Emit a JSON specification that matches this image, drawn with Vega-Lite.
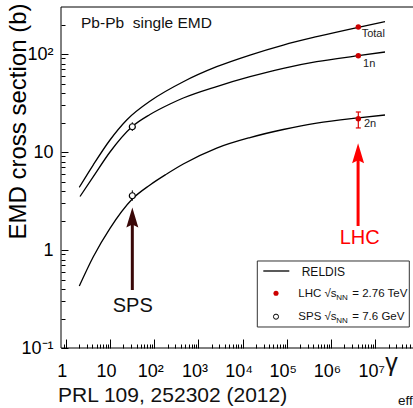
{
  "$schema": "https://vega.github.io/schema/vega-lite/v6.json",
  "width": 352,
  "height": 341,
  "autosize": "none",
  "padding": {"left": 61, "top": 7, "right": 0, "bottom": 60},
  "background": "white",
  "config": {"view": {"stroke": null}, "font": "Liberation Sans", "axis": {"ticks": true, "tickOpacity": 1, "zindex": 1}},
  "datasets": {
    "curves": [
      {"curve": "Total", "gamma": 2.02, "sigma": 4.363},
      {"curve": "Total", "gamma": 4.19, "sigma": 7.403},
      {"curve": "Total", "gamma": 10, "sigma": 13.26},
      {"curve": "Total", "gamma": 23.87, "sigma": 21.21},
      {"curve": "Total", "gamma": 87.79, "sigma": 33.93},
      {"curve": "Total", "gamma": 455.2, "sigma": 52.17},
      {"curve": "Total", "gamma": 2594, "sigma": 74.22},
      {"curve": "Total", "gamma": 14705, "sigma": 97.68},
      {"curve": "Total", "gamma": 83330, "sigma": 123.5},
      {"curve": "Total", "gamma": 474800, "sigma": 150.2},
      {"curve": "Total", "gamma": 4146000, "sigma": 187.3},
      {"curve": "Total", "gamma": 16660000, "sigma": 213.6},
      {"curve": "1n", "gamma": 2.096, "sigma": 3.515},
      {"curve": "1n", "gamma": 4.19, "sigma": 5.598},
      {"curve": "1n", "gamma": 10, "sigma": 10.0},
      {"curve": "1n", "gamma": 31.95, "sigma": 18.2},
      {"curve": "1n", "gamma": 80.35, "sigma": 24.13},
      {"curve": "1n", "gamma": 227.8, "sigma": 30.88},
      {"curve": "1n", "gamma": 455.2, "sigma": 35.56},
      {"curve": "1n", "gamma": 2594, "sigma": 46.6},
      {"curve": "1n", "gamma": 14705, "sigma": 58.68},
      {"curve": "1n", "gamma": 83330, "sigma": 71.47},
      {"curve": "1n", "gamma": 474800, "sigma": 83.44},
      {"curve": "1n", "gamma": 4146000, "sigma": 96.08},
      {"curve": "1n", "gamma": 16660000, "sigma": 104.8},
      {"curve": "2n", "gamma": 2.02, "sigma": 0.4292},
      {"curve": "2n", "gamma": 4.19, "sigma": 0.8543},
      {"curve": "2n", "gamma": 10, "sigma": 1.665},
      {"curve": "2n", "gamma": 31.95, "sigma": 3.314},
      {"curve": "2n", "gamma": 80.35, "sigma": 4.607},
      {"curve": "2n", "gamma": 191.8, "sigma": 5.964},
      {"curve": "2n", "gamma": 455.2, "sigma": 7.543},
      {"curve": "2n", "gamma": 2594, "sigma": 10.98},
      {"curve": "2n", "gamma": 14705, "sigma": 14.06},
      {"curve": "2n", "gamma": 83330, "sigma": 16.97},
      {"curve": "2n", "gamma": 474800, "sigma": 19.76},
      {"curve": "2n", "gamma": 4146000, "sigma": 22.34},
      {"curve": "2n", "gamma": 16660000, "sigma": 23.86}
    ],
    "hframe": [
      {"gamma": 0.7789, "gamma2": 71650000, "sigma": 301.8},
      {"gamma": 0.7789, "gamma2": 71650000, "sigma": 0.1}
    ],
    "vframe": [{"gamma": 0.7789, "sigma": 0.1, "sigma2": 301.8}],
    "sps": [
      {"gamma": 32, "sigma": 18.1},
      {"gamma": 32, "sigma": 3.58}
    ],
    "sps_err": [
      {"gamma": 32, "sigma": 16.4, "sigma2": 20.1},
      {"gamma": 32, "sigma": 3.18, "sigma2": 4.06}
    ],
    "lhc": [
      {"gamma": 4150000, "sigma": 188.6},
      {"gamma": 4150000, "sigma": 96.1},
      {"gamma": 4150000, "sigma": 21.9}
    ],
    "lhc_err": [{"gamma": 4150000, "sigma": 17.6, "sigma2": 25.6}],
    "lhc_caps": [
      {"gamma": 4150000, "sigma": 17.6},
      {"gamma": 4150000, "sigma": 25.6}
    ],
    "lhc_labels": [
      {"gamma": 4950000, "sigma": 149.1, "text": "Total"},
      {"gamma": 5300000, "sigma": 73.7, "text": "1n"},
      {"gamma": 5580000, "sigma": 18.0, "text": "2n"}
    ],
    "heading": [{"gamma": 2.21, "sigma": 184.2, "text": "Pb-Pb\u00a0 single EMD"}],
    "arrows": [
      {"exp": "LHC", "gamma": 4100000, "sigma": 1.758, "sigma2": 9.7},
      {"exp": "SPS", "gamma": 32, "sigma": 0.3907, "sigma2": 2.146}
    ],
    "heads": [
      {"exp": "LHC", "gamma": 4100000, "sigma": 9.7},
      {"exp": "SPS", "gamma": 32, "sigma": 2.146}
    ],
    "arrow_labels": [
      {"exp": "LHC", "gamma": 4460000, "sigma": 1.151, "text": "LHC"},
      {"exp": "SPS", "gamma": 32.8, "sigma": 0.2347, "text": "SPS"}
    ],
    "legbox": [{"gamma": 21510, "gamma2": 59080000, "sigma": 0.1638, "sigma2": 0.7724}],
    "legline": [{"gamma": 29400, "gamma2": 113970, "sigma": 0.6106}],
    "legreldis": [{"gamma": 217400, "sigma": 0.5468, "text": "RELDIS"}],
    "legdot": [{"gamma": 57000, "sigma": 0.3616}],
    "legcirc": [{"gamma": 57000, "sigma": 0.2087}],
    "legexp": [
      {"gamma": 182000, "sigma": 0.3353, "main": "LHC √s", "sub": "NN", "rest": "= 2.76 TeV"},
      {"gamma": 182000, "sigma": 0.1953, "main": "SPS √s", "sub": "NN", "rest": "= 7.6 GeV"}
    ],
    "xtitle": [{"gamma": 0.6661, "sigma": 0.02831, "text": "PRL 109, 252302 (2012)"}],
    "gam": [{"gamma": 23380000, "sigma": 0.05798, "text": "γ"}],
    "eff": [{"gamma": 32800000, "sigma": 0.0262, "text": "eff"}]
  },
  "encoding": {
    "x": {"field": "gamma", "type": "quantitative", "scale": {"type": "log", "domain": [0.7789, 71650000], "nice": false}, "axis": null},
    "y": {"field": "sigma", "type": "quantitative", "scale": {"type": "log", "domain": [0.1, 301.8], "nice": false}, "axis": null}
  },
  "resolve": {"axis": {"x": "independent", "y": "independent"}},
  "layer": [
    {
      "data": {"name": "curves"},
      "mark": {"type": "line", "interpolate": "monotone", "color": "black", "strokeWidth": 1.3},
      "encoding": {
        "x": {
          "field": "gamma", "type": "quantitative",
          "scale": {"type": "log", "domain": [0.7789, 71650000], "nice": false},
          "axis": {
            "orient": "bottom", "title": null, "grid": false, "domain": false, "ticks": true,
            "values": [1, 10, 100, 1000, 10000, 100000, 1000000, 10000000],
            "labelExpr": "datum.value == 1 ? '1' : datum.value == 10 ? '10' : datum.value == 100 ? '10²' : datum.value == 1000 ? '10³' : datum.value == 10000 ? '10⁴' : datum.value == 100000 ? '10⁵' : datum.value == 1000000 ? '10⁶' : '10⁷'",
            "offset": -9, "tickSize": 9, "tickWidth": 1, "tickColor": "black",
            "labelPadding": 14, "labelOffset": -4, "labelFontSize": 18, "labelFont": "Liberation Sans", "labelColor": "black",
            "labelOverlap": false, "labelFlush": false
          }
        },
        "y": {
          "field": "sigma", "type": "quantitative",
          "scale": {"type": "log", "domain": [0.1, 301.8], "nice": false},
          "axis": {
            "orient": "left", "grid": false, "domain": false, "ticks": true,
            "title": "EMD cross section (b)",
            "titleFontSize": 24, "titleFontWeight": "normal", "titleFont": "Liberation Sans", "titleColor": "black",
            "titleAngle": -90, "titleX": -43, "titleY": -4, "titleAlign": "right", "titleBaseline": "alphabetic",
            "values": [0.1, 1, 10, 100],
            "labelExpr": "datum.value == 100 ? '10²' : datum.value == 10 ? '10' : datum.value == 1 ? '1' : '10⁻¹'",
            "offset": -7, "tickSize": 7, "tickWidth": 1, "tickColor": "black",
            "labelPadding": 8, "labelFontSize": 18, "labelFont": "Liberation Sans", "labelColor": "black",
            "labelOverlap": false, "labelFlush": false
          }
        },
        "detail": {"field": "curve"}
      }
    },
    {
      "data": {"name": "hframe"},
      "mark": {"type": "rule", "color": "black", "strokeWidth": 1},
      "encoding": {
        "x": {
          "field": "gamma", "type": "quantitative",
          "scale": {"type": "log", "domain": [0.7789, 71650000], "nice": false},
          "axis": {
            "orient": "bottom", "title": null, "grid": false, "domain": false, "labels": false, "ticks": true,
            "values": [0.9, 2, 3, 4, 5, 6, 7, 8, 9, 20, 30, 40, 50, 60, 70, 80, 90, 200, 300, 400, 500, 600, 700, 800, 900, 2000, 3000, 4000, 5000, 6000, 7000, 8000, 9000, 20000, 30000, 40000, 50000, 60000, 70000, 80000, 90000, 200000, 300000, 400000, 500000, 600000, 700000, 800000, 900000, 2000000, 3000000, 4000000, 5000000, 6000000, 7000000, 8000000, 9000000, 20000000, 30000000, 40000000, 50000000, 60000000, 70000000],
            "offset": -4, "tickSize": 4, "tickWidth": 1, "tickColor": "black"
          }
        },
        "x2": {"field": "gamma2"},
        "y": {
          "field": "sigma", "type": "quantitative",
          "scale": {"type": "log", "domain": [0.1, 301.8], "nice": false},
          "axis": {
            "orient": "left", "title": null, "grid": false, "domain": false, "labels": false, "ticks": true,
            "values": [0.2, 0.3, 0.4, 0.5, 0.6, 0.7, 0.8, 0.9, 2, 3, 4, 5, 6, 7, 8, 9, 20, 30, 40, 50, 60, 70, 80, 90, 200],
            "offset": -4, "tickSize": 4, "tickWidth": 1, "tickColor": "black"
          }
        }
      }
    },
    {"data": {"name": "vframe"}, "mark": {"type": "rule", "color": "black", "strokeWidth": 1}, "encoding": {"y2": {"field": "sigma2"}}},
    {"data": {"name": "sps_err"}, "mark": {"type": "rule", "color": "black", "strokeWidth": 1}, "encoding": {"y2": {"field": "sigma2"}}},
    {"data": {"name": "sps"}, "mark": {"type": "point", "shape": "circle", "filled": false, "fill": "white", "stroke": "black", "strokeWidth": 1.2, "size": 36, "opacity": 1}},
    {"data": {"name": "lhc_err"}, "mark": {"type": "rule", "color": "#dd0000", "strokeWidth": 1.2}, "encoding": {"y2": {"field": "sigma2"}}},
    {"data": {"name": "lhc_caps"}, "mark": {"type": "tick", "orient": "horizontal", "color": "#dd0000", "size": 5, "thickness": 1.2, "opacity": 1}},
    {"data": {"name": "lhc"}, "mark": {"type": "point", "shape": "circle", "filled": true, "color": "#cc0000", "size": 30, "opacity": 1}},
    {"data": {"name": "lhc_labels"}, "mark": {"type": "text", "align": "left", "baseline": "alphabetic", "fontSize": 11, "color": "#222"}, "encoding": {"text": {"field": "text"}}},
    {"data": {"name": "heading"}, "mark": {"type": "text", "align": "left", "baseline": "alphabetic", "fontSize": 15.5, "color": "#111"}, "encoding": {"text": {"field": "text"}}},
    {"data": {"name": "arrows"}, "mark": {"type": "rule", "strokeWidth": 3}, "encoding": {"y2": {"field": "sigma2"}, "color": {"field": "exp", "type": "nominal", "scale": {"domain": ["LHC", "SPS"], "range": ["#ff0000", "#3a0808"]}, "legend": null}}},
    {"data": {"name": "heads"}, "mark": {"type": "point", "shape": "M0,-1L0.6,1L0,0.7L-0.6,1Z", "filled": true, "size": 400, "opacity": 1}, "encoding": {"color": {"field": "exp", "type": "nominal", "legend": null}}},
    {"data": {"name": "arrow_labels"}, "transform": [{"filter": "datum.exp == 'LHC'"}], "mark": {"type": "text", "align": "center", "baseline": "alphabetic", "fontSize": 20, "color": "#ff0000"}, "encoding": {"text": {"field": "text"}}},
    {"data": {"name": "arrow_labels"}, "transform": [{"filter": "datum.exp == 'SPS'"}], "mark": {"type": "text", "align": "center", "baseline": "alphabetic", "fontSize": 20, "color": "#111"}, "encoding": {"text": {"field": "text"}}},
    {"data": {"name": "legbox"}, "mark": {"type": "rect", "fill": "white", "stroke": "#333", "strokeWidth": 1}, "encoding": {"x2": {"field": "gamma2"}, "y2": {"field": "sigma2"}}},
    {"data": {"name": "legline"}, "mark": {"type": "rule", "color": "black", "strokeWidth": 1.3}, "encoding": {"x2": {"field": "gamma2"}}},
    {"data": {"name": "legreldis"}, "mark": {"type": "text", "align": "left", "baseline": "alphabetic", "fontSize": 12, "color": "#111"}, "encoding": {"text": {"field": "text"}}},
    {"data": {"name": "legdot"}, "mark": {"type": "point", "shape": "circle", "filled": true, "color": "#cc0000", "size": 26, "opacity": 1}},
    {"data": {"name": "legcirc"}, "mark": {"type": "point", "shape": "circle", "filled": false, "fill": "white", "stroke": "black", "strokeWidth": 1, "size": 26, "opacity": 1}},
    {"data": {"name": "legexp"}, "mark": {"type": "text", "align": "left", "baseline": "alphabetic", "fontSize": 11.5, "color": "#111"}, "encoding": {"text": {"field": "main"}}},
    {"data": {"name": "legexp"}, "mark": {"type": "text", "align": "left", "baseline": "alphabetic", "fontSize": 8, "dx": 38, "dy": 3, "color": "#111"}, "encoding": {"text": {"field": "sub"}}},
    {"data": {"name": "legexp"}, "mark": {"type": "text", "align": "left", "baseline": "alphabetic", "fontSize": 11.5, "dx": 54, "color": "#111"}, "encoding": {"text": {"field": "rest"}}},
    {"data": {"name": "xtitle"}, "mark": {"type": "text", "align": "left", "baseline": "alphabetic", "fontSize": 21, "color": "#111"}, "encoding": {"text": {"field": "text"}}},
    {"data": {"name": "gam"}, "mark": {"type": "text", "align": "center", "baseline": "alphabetic", "fontSize": 25, "color": "#111"}, "encoding": {"text": {"field": "text"}}},
    {"data": {"name": "eff"}, "mark": {"type": "text", "align": "left", "baseline": "alphabetic", "fontSize": 13.5, "color": "#111"}, "encoding": {"text": {"field": "text"}}}
  ]
}
